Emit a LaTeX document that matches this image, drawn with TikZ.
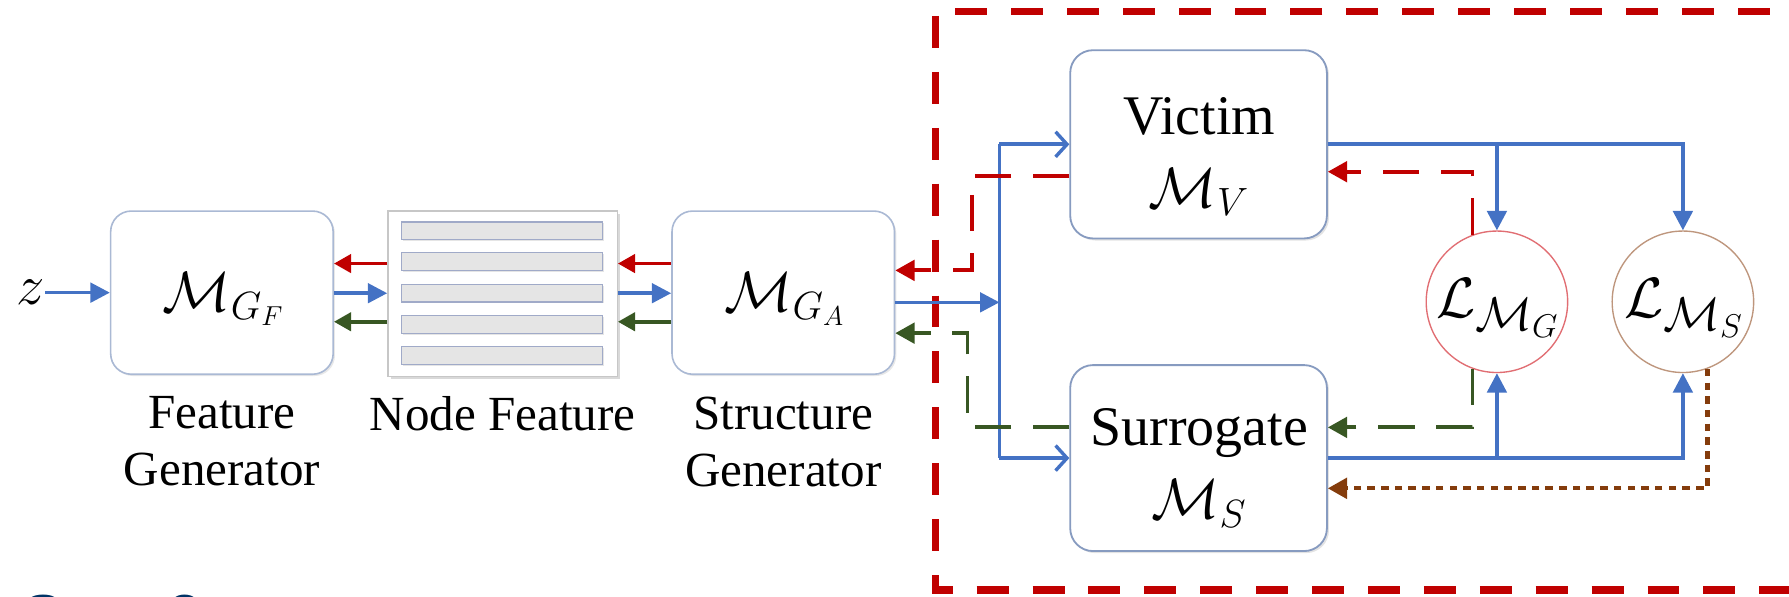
\documentclass[tikz,border=0pt]{standalone}
\usepackage{fontspec}
\setmainfont{Liberation Serif}
\newfontfamily\stepfont{Liberation Sans}
\usetikzlibrary{arrows.meta,shadows,calc}
\definecolor{cblue}{RGB}{68,114,196}
\definecolor{cred}{RGB}{192,0,0}
\definecolor{cgreen}{RGB}{56,87,35}
\definecolor{cbrown}{RGB}{132,60,12}
\definecolor{boxline}{RGB}{170,185,212}
\definecolor{boxdark}{RGB}{135,155,192}
\definecolor{barline}{RGB}{160,170,200}
\definecolor{lossred}{RGB}{225,110,115}
\definecolor{lossbrown}{RGB}{190,150,125}
\definecolor{stepblue}{RGB}{0,51,102}
\begin{document}
\begin{tikzpicture}[x=0.5pt,y=-0.5pt,
  gbox/.style={draw=boxline, line width=0.7pt, rounded corners=9pt, fill=white,
    minimum width=97.5pt, minimum height=71.5pt, inner sep=0pt,
    drop shadow={opacity=0.18, shadow xshift=0.8pt, shadow yshift=-0.8pt}},
  mbox/.style={draw=boxdark, line width=0.8pt, rounded corners=10pt, fill=white,
    minimum width=112.5pt, inner sep=0pt,
    drop shadow={opacity=0.22, shadow xshift=0.9pt, shadow yshift=-0.9pt}},
  nfbox/.style={draw=black!22, line width=0.6pt, fill=white,
    minimum width=100.5pt, minimum height=72.5pt, inner sep=0pt,
    drop shadow={opacity=0.3, shadow xshift=1.2pt, shadow yshift=-1.2pt}},
  nfbar/.style={draw=barline, line width=0.6pt, fill=black!10,
    minimum width=88pt, minimum height=7.8pt, inner sep=0pt,
    drop shadow={opacity=0.2, shadow xshift=0.6pt, shadow yshift=-0.6pt}},
  losscirc/.style={circle, line width=0.6pt, fill=white, minimum size=62pt, inner sep=0pt},
  mathtxt/.style={font=\fontsize{24}{28}\selectfont, inner sep=0pt},
  lbl/.style={font=\fontsize{21.5}{25}\selectfont, align=center, inner sep=0pt},
  intxt/.style={font=\fontsize{24.5}{32}\selectfont, align=center, inner sep=0pt},
  barrow/.style={cblue, line width=1.6pt, -{Triangle[length=8.5pt,width=8.5pt]}},
  bline/.style={cblue, line width=1.6pt},
  bopen/.style={cblue, line width=1.6pt, -{Straight Barb[length=5pt,width=11pt,line width=1.5pt]}},
  rarrow/.style={cred, line width=1.6pt, -{Triangle[length=7.5pt,width=8pt]}},
  garrow/.style={cgreen, line width=1.6pt, -{Triangle[length=7.5pt,width=8pt]}},
  rdash/.style={cred, line width=1.7pt, dash pattern=on 16pt off 9.5pt, -{Triangle[length=8.5pt,width=9pt]}},
  gdash/.style={cgreen, line width=1.7pt, dash pattern=on 16pt off 9.5pt, -{Triangle[length=8.5pt,width=9pt]}},
  bdot/.style={cbrown, line width=1.9pt, dash pattern=on 3.3pt off 2.7pt, -{Triangle[length=8.5pt,width=9pt]}},
  frame/.style={cred, line width=3.2pt, dash pattern=on 14pt off 10.5pt}
]
\useasboundingbox (0,0) rectangle (1568,523);

% dashed frame
\draw[frame] (1600,10) -- (820,10) -- (820,517) -- (1600,517);

% left pipeline
\node[inner sep=0pt, font=\fontsize{28}{30}\selectfont] (z) at (27,256.5) {$z$};
\node[gbox] (fg) at (194.5,256.5) {};
\node[mathtxt] (fgt) at (196,262) {$\mathcal{M}_{G_F}$};
\node[nfbox] (nf) at (440.5,257.5) {};
\node[nfbar] (nf1) at (440,202.3) {};
\node[nfbar] (nf2) at (440,229.3) {};
\node[nfbar] (nf3) at (440,257) {};
\node[nfbar] (nf4) at (440,284.5) {};
\node[nfbar] (nf5) at (440,311.4) {};
\node[gbox] (sg) at (686.5,256.5) {};
\node[mathtxt] (sgt) at (688,262) {$\mathcal{M}_{G_A}$};

\node[lbl] (fgl) at (194.5,387) {Feature\\Generator};
\node[lbl] (nfl) at (440.5,363) {Node Feature};
\node[lbl] (sgl) at (686.5,387) {Structure\\Generator};

\coordinate (yr) at (0,231);
\coordinate (yg) at (0,282);
\draw[barrow] (z.east) -- (fg.west |- z.east);
\draw[rarrow] (nf.west |- yr) -- (fg.east |- yr);
\draw[barrow] (fg.east |- nf3) -- (nf.west |- nf3);
\draw[garrow] (nf.west |- yg) -- (fg.east |- yg);
\draw[rarrow] (sg.west |- yr) -- (nf.east |- yr);
\draw[barrow] (nf.east |- nf3) -- (sg.west |- nf3);
\draw[garrow] (sg.west |- yg) -- (nf.east |- yg);

% victim / surrogate
\node[mbox, minimum height=82.5pt] (vic) at (1050.5,126.5) {};
\node[intxt] (vict) at (1051,137) {Victim\\$\mathcal{M}_V$};
\node[mbox, minimum height=81.5pt] (sur) at (1050.5,401.5) {};
\node[intxt] (surt) at (1051,410) {Surrogate\\$\mathcal{M}_S$};

\coordinate (split) at (876,265);
\coordinate (vtop) at (876,126.5);
\coordinate (vbot) at (876,401.5);
\draw[barrow] ($(sg.east)+(0,8.5)$) -- (split);
\draw[bline] (vtop) -- (vbot);
\draw[bopen] (vtop) -- (vic.west);
\draw[bopen] (vbot) -- (sur.west);

\coordinate (rA) at (852,154);
\coordinate (rB) at (852,237);
\draw[rdash] (vic.west |- rA) -- (rA) -- (rB) -- (sg.east |- rB);
\coordinate (gA) at (848,374.5);
\coordinate (gB) at (848,292);
\draw[gdash] (sur.west |- gA) -- (gA) -- (gB) -- (sg.east |- gB);

% losses
\node[losscirc, draw=lossred] (lmg) at (1312,264.5) {};
\node[mathtxt, font=\fontsize{28}{30}\selectfont] (lmgt) at (1313,270) {$\mathcal{L}_{\mathcal{M}_G}$};
\node[losscirc, draw=lossbrown] (lms) at (1475,264.5) {};
\node[mathtxt, font=\fontsize{28}{30}\selectfont] (lmst) at (1476,270) {$\mathcal{L}_{\mathcal{M}_S}$};

\draw[barrow] (vic.east) -| (lms.north);
\draw[barrow] (lmg.north |- vic.east) -- (lmg.north);
\draw[barrow] (sur.east) -| (lms.south);
\draw[barrow] (lmg.south |- sur.east) -- (lmg.south);

\coordinate (ry) at (0,150.5);
\coordinate (gy) at (0,374.6);
\coordinate (by) at (0,428);
\draw[rdash] (lmg.110) -- (lmg.110 |- ry) -- (vic.east |- ry);
\draw[gdash] (lmg.250) -- (lmg.250 |- gy) -- (sur.east |- gy);
\draw[bdot] (lms.-70) -- (lms.-70 |- by) -- (sur.east |- by);

% cut-off caption
\node[anchor=base west, inner sep=0pt, text=stepblue, font=\stepfont\bfseries\fontsize{26}{30}\selectfont] (step) at (20,558) {Step 2};
\end{tikzpicture}
\end{document}
